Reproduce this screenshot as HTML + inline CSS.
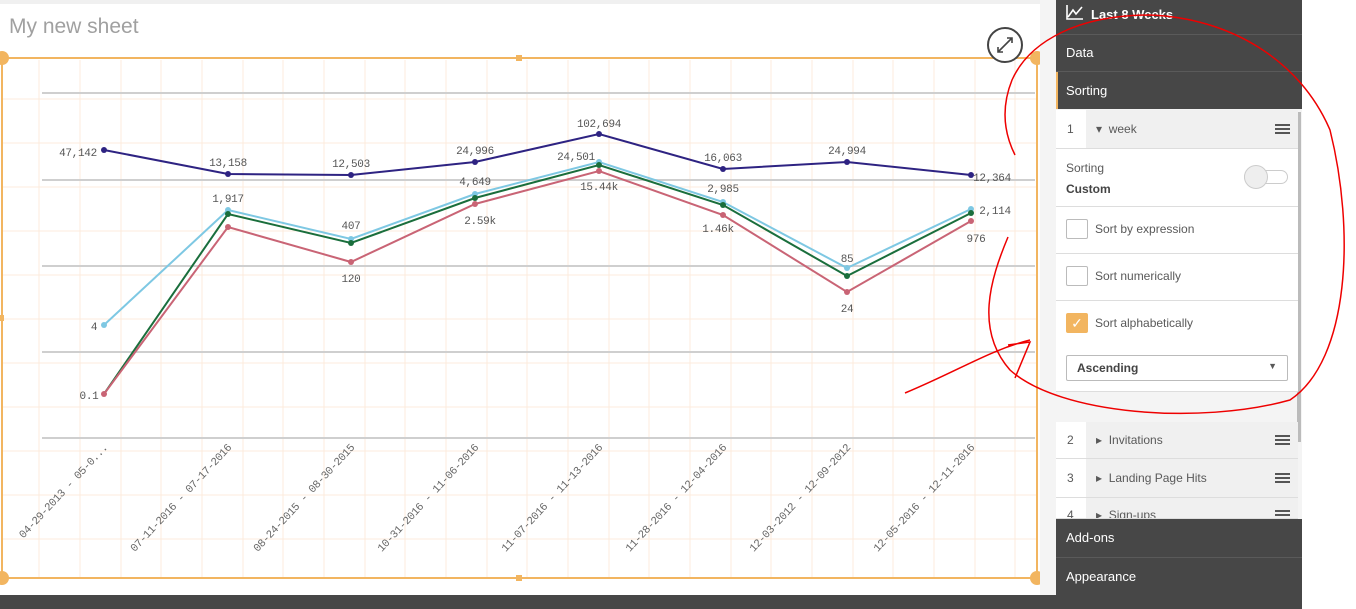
<!DOCTYPE html>
<html><head><style>
body{margin:0;width:1356px;height:609px;overflow:hidden;background:#fff;font-family:"Liberation Sans",sans-serif;position:relative}
.p{position:absolute}
.dk{background:#474747;color:#fff;font-size:13px;position:absolute;left:1056px;width:246px}
.row{position:absolute;left:1056px;width:242px;background:#fff;border-bottom:1px solid #ddd;font-size:12px;color:#595959}
.cb{position:absolute;left:10px;width:20px;height:18px;border:1px solid #bbb;border-radius:2px;background:#fff}
.ham{position:absolute;right:8px;width:15px;height:2px;background:#555;box-shadow:0 4px 0 #555,0 8px 0 #555}
</style></head><body>
<div class="p" style="left:0;top:0;width:1056px;height:4px;background:#f0f0f0"></div>
<div class="p" style="left:9px;top:15px;font-size:21px;color:#a0a0a0">My new sheet</div>
<svg class="p" style="left:0;top:0" width="1056" height="609">
<g stroke="#fcebdc" stroke-width="1">
<path d="M39 60V578M80 60V578M121 60V578M161 60V578M202 60V578M243 60V578M283 60V578M324 60V578M365 60V578M405 60V578M446 60V578M487 60V578M527 60V578M568 60V578M609 60V578M649 60V578M690 60V578M731 60V578M771 60V578M812 60V578M853 60V578M893 60V578M934 60V578M975 60V578M1015 60V578"/>
<path d="M2 99H1037M2 143H1037M2 187H1037M2 231H1037M2 275H1037M2 319H1037M2 363H1037M2 407H1037M2 451H1037M2 495H1037M2 539H1037"/>
</g>
<g stroke="#cfcfcf" stroke-width="2"><path d="M42 93H1035M42 180H1035M42 266H1035M42 352H1035M42 438H1035"/></g>
<rect x="2" y="58" width="1035" height="520" fill="none" stroke="#f2b560" stroke-width="2"/>
<g fill="#f2b560"><circle cx="2" cy="58" r="7"/><circle cx="1037" cy="58" r="7"/><circle cx="2" cy="578" r="7"/><circle cx="1037" cy="578" r="7"/><rect x="516" y="55" width="6" height="6"/><rect x="516" y="575" width="6" height="6"/><rect x="0" y="315" width="4" height="6"/></g>
<circle cx="1005" cy="45" r="17" fill="#fff" stroke="#444" stroke-width="2"/>
<path d="M998 52l14-14M1007 38h5v5M998 47v5h5" stroke="#444" stroke-width="1.6" fill="none"/>
<g fill="none" stroke-width="2">
<polyline stroke="#2e2382" points="104,150 228,174 351,175 475,162 599,134 723,169 847,162 971,175"/>
<polyline stroke="#7ec8e3" points="104,325 228,210 351,239 475,194 599,162 723,202 847,268 971,209"/>
<polyline stroke="#1a6e3c" points="104,394 228,214 351,243 475,198 599,165 723,205 847,276 971,213"/>
<polyline stroke="#c96475" points="104,394 228,227 351,262 475,204 599,171 723,215 847,292 971,221"/>
</g>
<g fill="#2e2382"><circle cx="104" cy="150" r="3"/><circle cx="228" cy="174" r="3"/><circle cx="351" cy="175" r="3"/><circle cx="475" cy="162" r="3"/><circle cx="599" cy="134" r="3"/><circle cx="723" cy="169" r="3"/><circle cx="847" cy="162" r="3"/><circle cx="971" cy="175" r="3"/></g>
<g fill="#7ec8e3"><circle cx="104" cy="325" r="3"/><circle cx="228" cy="210" r="3"/><circle cx="351" cy="239" r="3"/><circle cx="475" cy="194" r="3"/><circle cx="599" cy="162" r="3"/><circle cx="723" cy="202" r="3"/><circle cx="847" cy="268" r="3"/><circle cx="971" cy="209" r="3"/></g>
<g fill="#1a6e3c"><circle cx="228" cy="214" r="3"/><circle cx="351" cy="243" r="3"/><circle cx="475" cy="198" r="3"/><circle cx="599" cy="165" r="3"/><circle cx="723" cy="205" r="3"/><circle cx="847" cy="276" r="3"/><circle cx="971" cy="213" r="3"/></g>
<g fill="#c96475"><circle cx="104" cy="394" r="3"/><circle cx="228" cy="227" r="3"/><circle cx="351" cy="262" r="3"/><circle cx="475" cy="204" r="3"/><circle cx="599" cy="171" r="3"/><circle cx="723" cy="215" r="3"/><circle cx="847" cy="292" r="3"/><circle cx="971" cy="221" r="3"/></g>
<g font-family="Liberation Mono,monospace" font-size="11" fill="#555" text-anchor="middle" letter-spacing="-0.3">
<text x="78" y="156">47,142</text><text x="228" y="166">13,158</text><text x="351" y="167">12,503</text><text x="475" y="154">24,996</text><text x="599" y="127">102,694</text><text x="723" y="161">16,063</text><text x="847" y="154">24,994</text><text x="992" y="181">12,364</text>
<text x="94" y="330">4</text><text x="228" y="202">1,917</text><text x="351" y="229">407</text><text x="475" y="185">4,649</text><text x="576" y="160">24,501</text><text x="723" y="192">2,985</text><text x="847" y="262">85</text><text x="995" y="214">2,114</text>
<text x="89" y="399">0.1</text><text x="351" y="282">120</text><text x="480" y="224">2.59k</text><text x="599" y="190">15.44k</text><text x="718" y="232">1.46k</text><text x="847" y="312">24</text><text x="976" y="242">976</text>
</g>
<g font-family="Liberation Mono,monospace" font-size="11" fill="#666" text-anchor="end" letter-spacing="-0.4">
<text transform="translate(108,448) rotate(-47)">04-29-2013 - 05-0...</text>
<text transform="translate(232,448) rotate(-47)">07-11-2016 - 07-17-2016</text>
<text transform="translate(355,448) rotate(-47)">08-24-2015 - 08-30-2015</text>
<text transform="translate(479,448) rotate(-47)">10-31-2016 - 11-06-2016</text>
<text transform="translate(603,448) rotate(-47)">11-07-2016 - 11-13-2016</text>
<text transform="translate(727,448) rotate(-47)">11-28-2016 - 12-04-2016</text>
<text transform="translate(851,448) rotate(-47)">12-03-2012 - 12-09-2012</text>
<text transform="translate(975,448) rotate(-47)">12-05-2016 - 12-11-2016</text>
</g>
</svg>
<div class="p" style="left:0;top:595px;width:1302px;height:14px;background:#474747"></div>
<div class="p" style="left:1040px;top:0;width:16px;height:595px;background:#f4f4f4"></div>
<div class="dk" style="top:0;height:34px;border-bottom:1px solid #5a5a5a"><svg style="position:absolute;left:10px;top:4px" width="18" height="16"><path d="M1 1V15H17M2 13L7 6L10 10L16 3" stroke="#fff" stroke-width="1.6" fill="none"/></svg><b style="position:absolute;left:35px;top:7px">Last 8 Weeks</b></div>
<div class="dk" style="top:35px;height:36px;border-bottom:1px solid #5a5a5a"><span style="position:absolute;left:10px;top:10px">Data</span></div>
<div class="dk" style="top:72px;height:37px;border-left:2px solid #f2b560;width:244px"><span style="position:absolute;left:8px;top:11px">Sorting</span></div>
<div class="p" style="left:1056px;top:109px;width:246px;height:410px;background:#f4f4f4"></div>
<div class="p" style="left:1297px;top:112px;width:4px;height:330px;background:#bbb"></div>
<div class="row" style="top:110px;height:38px;background:#f0f0f0"><span style="position:absolute;left:0;width:30px;height:38px;background:#fff"></span><span style="position:absolute;left:11px;top:12px">1</span><span style="position:absolute;left:40px;top:12px">▾ &nbsp;week</span><div class="ham" style="top:14px"></div></div>
<div class="row" style="top:149px;height:57px"><span style="position:absolute;left:10px;top:12px">Sorting</span><b style="position:absolute;left:10px;top:33px;color:#444">Custom</b><span style="position:absolute;left:188px;top:21px;width:42px;height:12px;border:1px solid #ccc;border-radius:7px"></span><span style="position:absolute;left:188px;top:16px;width:22px;height:22px;border-radius:50%;background:#eee;border:1px solid #ccc"></span></div>
<div class="row" style="top:207px;height:46px"><span class="cb" style="top:12px"></span><span style="position:absolute;left:39px;top:15px">Sort by expression</span></div>
<div class="row" style="top:254px;height:46px"><span class="cb" style="top:12px"></span><span style="position:absolute;left:39px;top:15px">Sort numerically</span></div>
<div class="row" style="top:301px;height:90px"><span class="cb" style="top:12px;background:#f2b560;border-color:#f2b560;color:#fff;text-align:center;font-size:14px;line-height:18px">✓</span><span style="position:absolute;left:39px;top:15px">Sort alphabetically</span><div style="position:absolute;left:10px;top:54px;width:220px;height:24px;border:1px solid #bbb;border-radius:2px"><b style="position:absolute;left:10px;top:5px;color:#444">Ascending</b><span style="position:absolute;right:10px;top:5px;font-size:9px">▼</span></div></div>
<div class="row" style="top:422px;height:36px;background:#f0f0f0"><span style="position:absolute;left:0;width:30px;height:36px;background:#fff"></span><span style="position:absolute;left:11px;top:11px">2</span><span style="position:absolute;left:40px;top:11px">▸ &nbsp;Invitations</span><div class="ham" style="top:13px"></div></div>
<div class="row" style="top:459px;height:38px;background:#f0f0f0"><span style="position:absolute;left:0;width:30px;height:38px;background:#fff"></span><span style="position:absolute;left:11px;top:12px">3</span><span style="position:absolute;left:40px;top:12px">▸ &nbsp;Landing Page Hits</span><div class="ham" style="top:14px"></div></div>
<div class="row" style="top:498px;height:20px;background:#f0f0f0;overflow:hidden"><span style="position:absolute;left:0;width:30px;height:20px;background:#fff"></span><span style="position:absolute;left:11px;top:10px">4</span><span style="position:absolute;left:40px;top:10px">▸ &nbsp;Sign-ups</span><div class="ham" style="top:12px"></div></div>
<div class="dk" style="top:519px;height:38px;border-bottom:1px solid #5a5a5a"><span style="position:absolute;left:10px;top:11px">Add-ons</span></div>
<div class="dk" style="top:558px;height:37px"><span style="position:absolute;left:10px;top:11px">Appearance</span></div>
<svg class="p" style="left:0;top:0" width="1356" height="609"><path d="M1008 237 C990 280,975 330,1010 370 C1060 415,1200 425,1290 400 C1350 360,1355 230,1330 130 C1300 60,1230 18,1150 15 C1080 15,1030 40,1012 80 C1000 110,1005 135,1015 155 M1030 340 C990 350,960 370,905 393 M1008 345 L1030 342 L1015 378" fill="none" stroke="#e00" stroke-width="1.5"/></svg>
</body></html>
